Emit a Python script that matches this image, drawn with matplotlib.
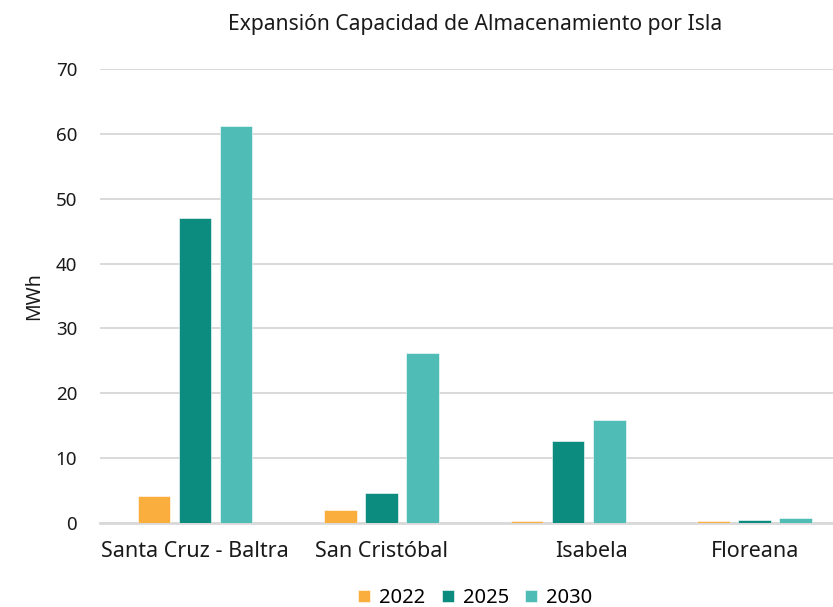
import matplotlib
matplotlib.use("Agg")
import matplotlib.pyplot as plt
import matplotlib.transforms as mtransforms
import numpy as np

plt.rcParams["font.family"] = ["Noto Sans", "DejaVu Sans"]

islands = ["Santa Cruz - Baltra", "San Cristóbal", "Isabela", "Floreana"]
years = ["2022", "2025", "2030"]
v2022 = [4.2, 2.0, 0.3, 0.3]
v2025 = [47.0, 4.7, 12.6, 0.4]
v2030 = [61.2, 26.2, 15.9, 0.7]
colors = ["#F9AE3D", "#0B8C7E", "#4FBDB6"]

fig = plt.figure(figsize=(8.33, 6.07), dpi=100)
ax = fig.add_axes([100 / 833, (607 - 523) / 607, 1 - 100 / 833, (523 - 69) / 607])

x = np.arange(len(islands))
w = 0.175
off = 0.22
for i, (vals, c, lab) in enumerate(zip([v2022, v2025, v2030], colors, years)):
    ax.bar(x + (i - 1) * off, vals, w, color=c, edgecolor="white",
           linewidth=0.4, label=lab, zorder=3)

ax.set_xlim(-0.51, 3.42)
ax.set_ylim(0, 70)
ax.set_yticks(range(0, 71, 10))
ax.set_xticks(x)
ax.set_xticklabels(islands, fontsize=15.5, color="#1a1a1a")
ax.tick_params(axis="y", length=0, pad=16.5, labelsize=13.5, labelcolor="#1a1a1a")
ax.tick_params(axis="x", length=0, pad=13)
ax.grid(axis="y", color="#d9d9d9", linewidth=1.4, zorder=0)
for s in ["top", "right", "left"]:
    ax.spines[s].set_visible(False)
ax.spines["bottom"].set_color("#d9d9d9")
ax.spines["bottom"].set_linewidth(2)
ax.spines["bottom"].set_zorder(1)

# Isabela label sits a little right of its group
lbl = ax.get_xticklabels()[2]
lbl.set_transform(lbl.get_transform() +
                  mtransforms.ScaledTranslation(0.23, 0, fig.dpi_scale_trans))

ax.set_ylabel("MWh", fontsize=14, color="#1a1a1a", labelpad=8)
ax.set_title("Expansión Capacidad de Almacenamiento por Isla", fontsize=15.2,
             color="#1a1a1a", pad=28, x=0.512)

ax.legend(loc="upper center", bbox_to_anchor=(0.512, -0.117), ncol=3, frameon=False,
          fontsize=14.5, handlelength=0.6, handleheight=0.6, handletextpad=0.45,
          columnspacing=0.8, borderaxespad=0.2)

fig.savefig("out.png", dpi=100)
